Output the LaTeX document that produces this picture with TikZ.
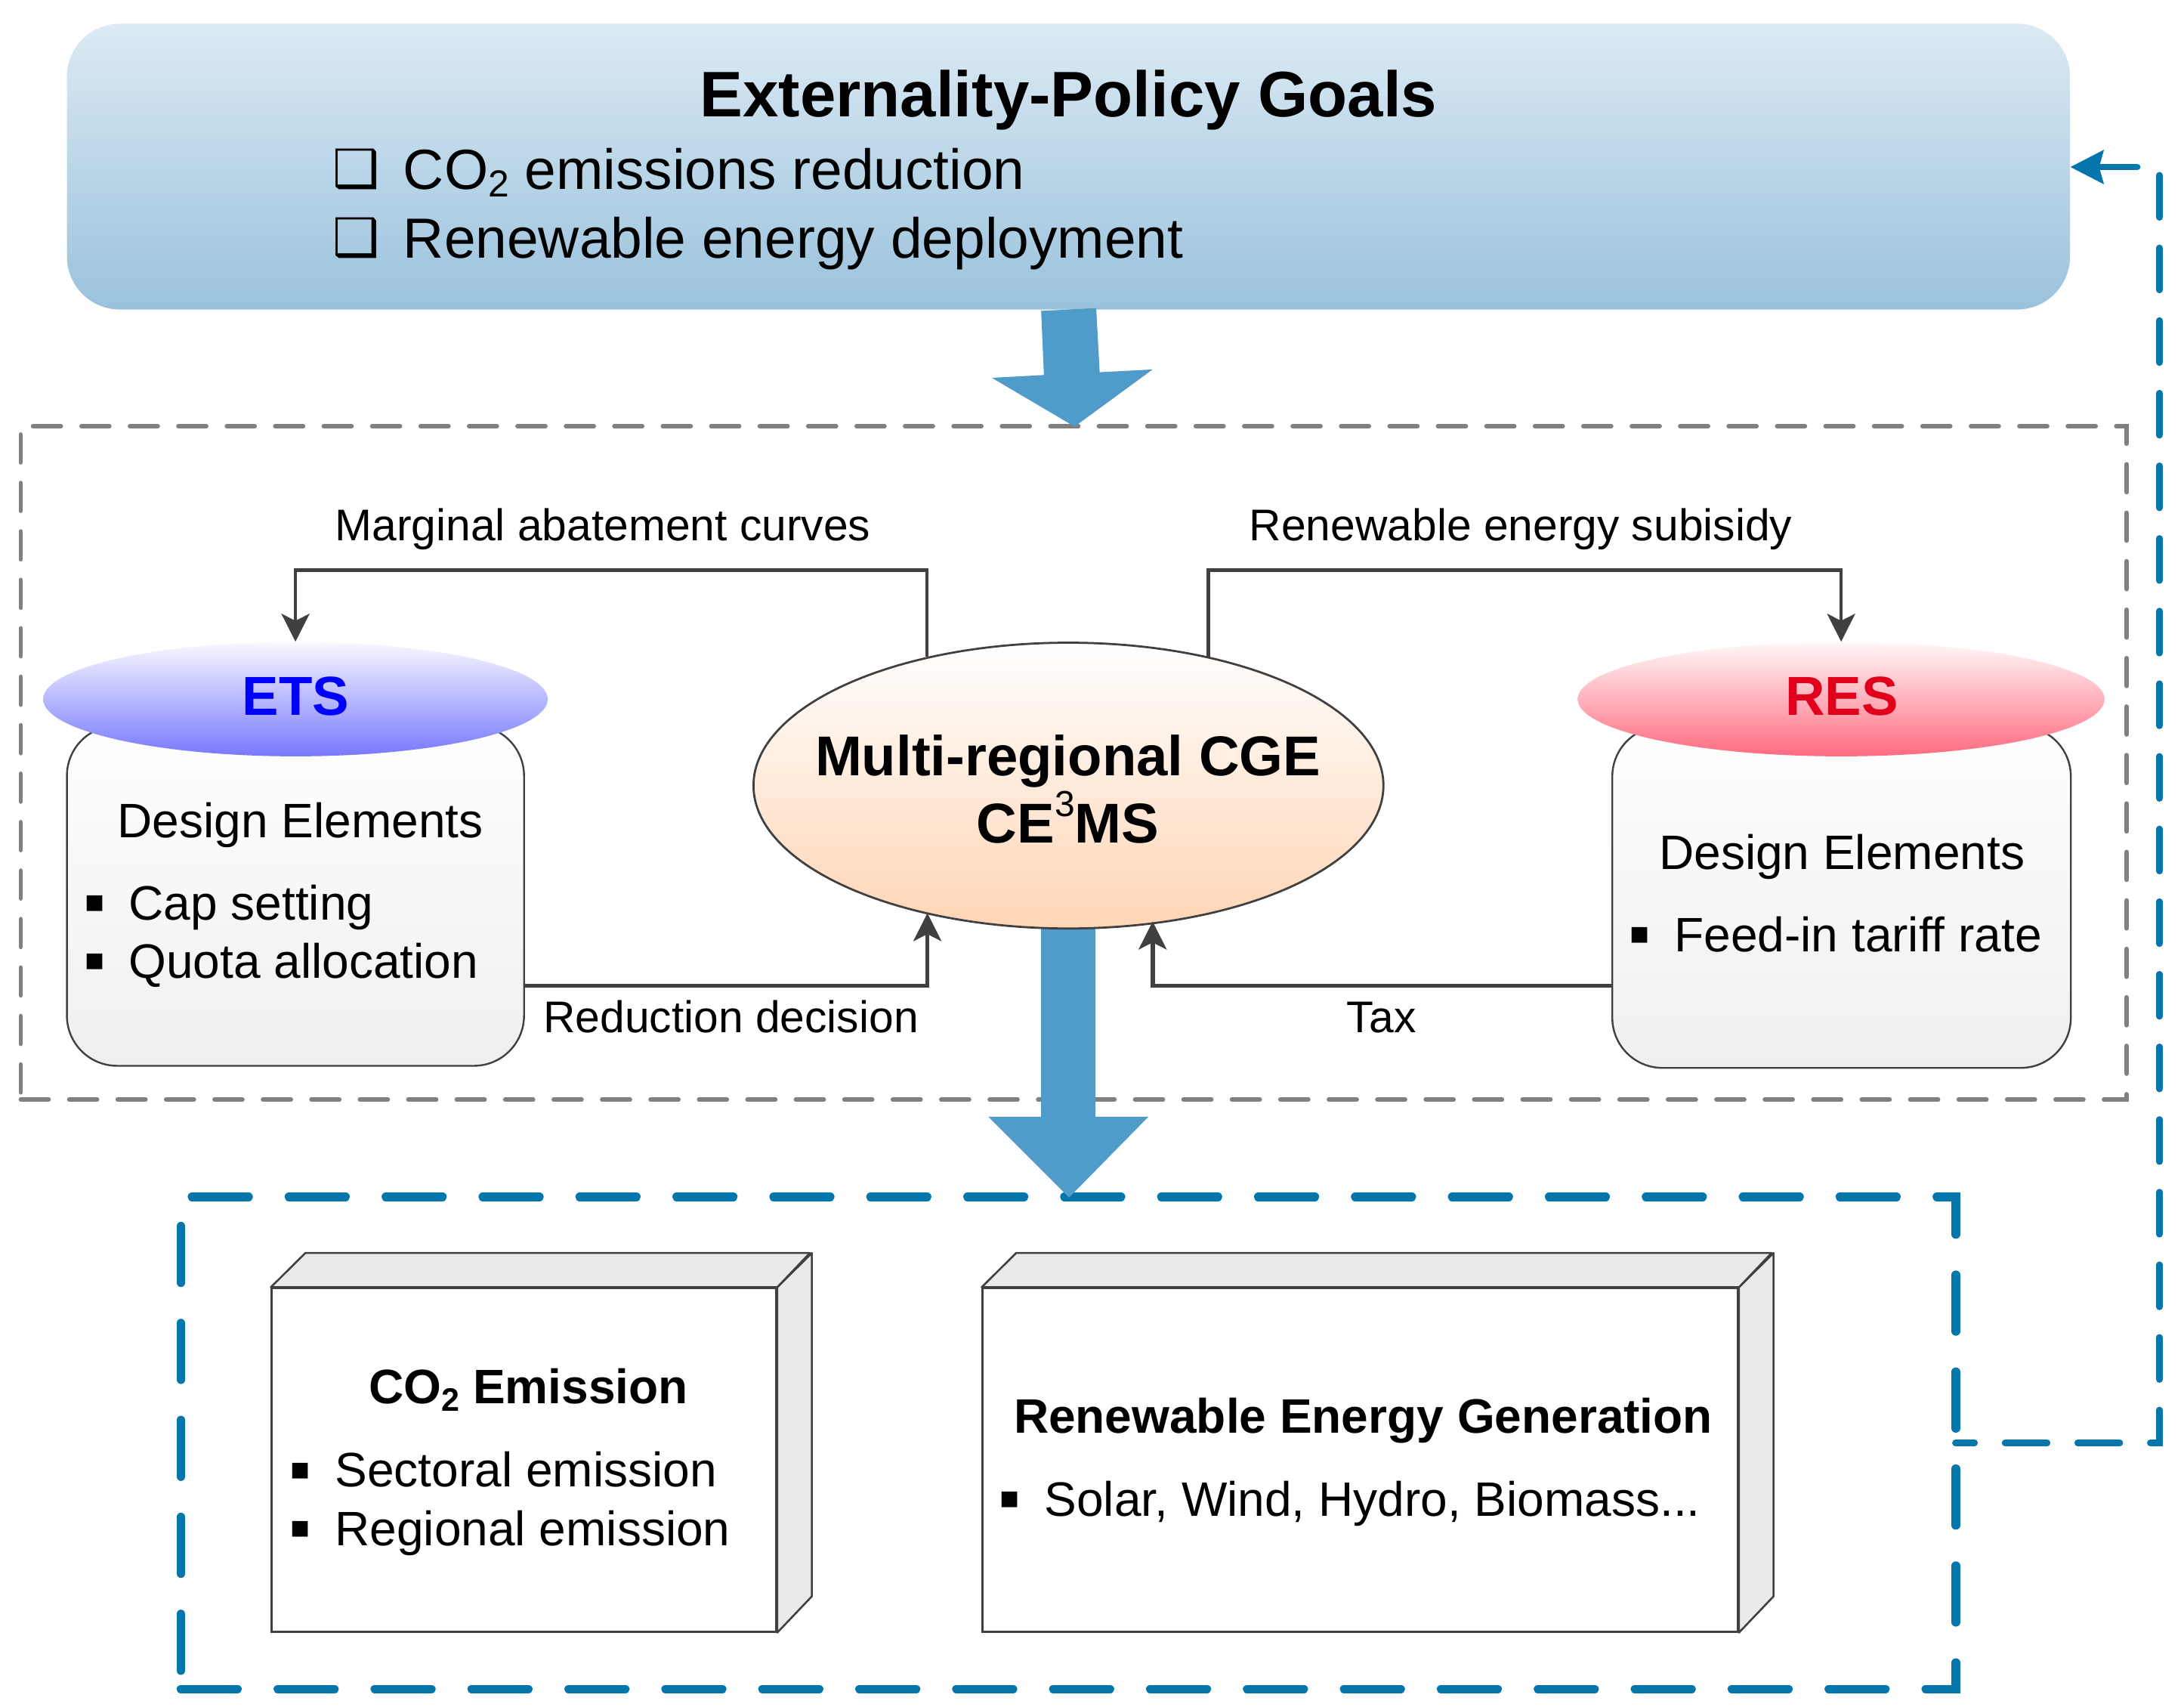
\documentclass[tikz,border=0pt]{standalone}
\usepackage{fontspec}
\setmainfont{Liberation Sans}
\newfontfamily\djv{DejaVu Sans}
\usetikzlibrary{arrows.meta,shapes.geometric}
\definecolor{arrowblue}{HTML}{4F9BC9}
\definecolor{dashblue}{HTML}{0476AB}
\definecolor{linegray}{HTML}{404040}
\definecolor{facegray}{HTML}{EAEAEA}
\definecolor{goaltop}{HTML}{DCEAF3}
\definecolor{goalbot}{HTML}{9AC2DD}
\definecolor{etstop}{HTML}{F8F8FF}
\definecolor{etsbot}{HTML}{7878FF}
\definecolor{restop}{HTML}{FFF8F8}
\definecolor{resbot}{HTML}{FF6B80}
\definecolor{cgebot}{HTML}{FFD5B5}
\definecolor{boxbot}{HTML}{EFEFEF}
\definecolor{resred}{HTML}{E0001B}
\newcommand{\fs}[1]{\fontsize{#1}{#1}\selectfont}
\newcommand{\chk}{{\djv\fs{37.5}❑}}
\newcommand{\bul}{{\djv\fs{22.5}▪}}
\newcommand{\subtwo}[2]{\raisebox{-#2pt}{\fs{#1}2}}
\tikzset{
  txt/.style={inner sep=0pt,anchor=base west,text=black,font=\fs{34.7}},
  txtc/.style={inner sep=0pt,anchor=base,text=black},
  lab/.style={inner sep=0pt,anchor=base west,text=black,font=\fs{31.85}},
  bullet/.style={inner sep=0pt,anchor=base west},
  conn/.style={draw=linegray,line width=2.5pt,-{Stealth[length=20pt,width=20pt,inset=5pt]}},
  bigarrow/.style={fill=arrowblue,draw=none},
  design/.style={draw=linegray,line width=1.3pt,rounded corners=36pt,top color=white,bottom color=boxbot,inner sep=0pt},
  capsule/.style={ellipse,draw=none,minimum height=82pt,inner sep=0pt},
  front/.style={draw=linegray,line width=1.4pt,fill=white,minimum height=246.3pt,inner sep=0pt},
  face/.style={draw=linegray,line width=1.4pt,fill=facegray,line join=round},
  grayframe/.style={draw=gray,line width=3.2pt,line cap=round,dash pattern=on 20pt off 14.76pt},
  blueframe/.style={draw=dashblue,line width=6.2pt,line cap=round,dash pattern=on 40.6pt off 28.95pt},
  feedback/.style={draw=dashblue,line width=4.7pt,line cap=round,dash pattern=on 30.2pt off 21.9pt,dash phase=16.5pt,
    -{Stealth[length=23.7pt,width=23.7pt,inset=3pt]}},
}
\begin{document}
\begin{tikzpicture}[x=1pt,y=-1pt]
\useasboundingbox (0,0) rectangle (1567,1224.4);
% frames
\coordinate (gBL) at (14.9,788.7); \coordinate (gBR) at (1525.8,788.7);
\coordinate (gTR) at (1525.8,305.7); \coordinate (gTL) at (14.9,305.7);
\coordinate (bBL) at (129.8,1211.6); \coordinate (bBR) at (1403.3,1211.6);
\coordinate (bTR) at (1403.3,858.5); \coordinate (bTL) at (129.8,858.5);
\draw[grayframe] (gBL) -- (gBR) -- (gTR) -- (gTL) -- cycle;
\draw[blueframe] (bBL) -- (bBR) -- (bTR) -- (bTL) -- cycle;
% goals box
\node[draw=none,rounded corners=38pt,top color=goaltop,bottom color=goalbot,minimum width=1437.2pt,minimum height=205pt,inner sep=0pt] (goals) at (766.6,119.5) {};
% feedback
\coordinate (fS) at (1403,1035); \coordinate (fC) at (1549.4,1035); \coordinate (fU) at (1549.4,119.8);
\draw[feedback] (fS) -- (fC) -- (fU) -- (goals.east |- fU);
% big arrows
\fill[bigarrow] (747,223) -- (786.5,221) -- (789,267) -- (827,265) -- (771,306) -- (711.6,271) -- (749,269) -- cycle;
\fill[bigarrow] (747,664) -- (786,664) -- (786,801) -- (824,801) -- (767,859) -- (709,801) -- (747,801) -- cycle;
% design boxes
\node[design,minimum width=328pt,minimum height=244pt] (etsbox) at (212,642.5) {};
\node[design,minimum width=329pt,minimum height=245pt] (resbox) at (1321.3,643.5) {};
\node[capsule,top color=etstop,bottom color=etsbot,minimum width=362pt] (ets) at (212,501.5) {};
\node[capsule,top color=restop,bottom color=resbot,minimum width=378pt] (res) at (1321,501.5) {};
% centre
\node[ellipse,draw=linegray,line width=1.5pt,top color=white,bottom color=cgebot,minimum width=452pt,minimum height=205pt,inner sep=0pt] (cge) at (766.6,563.5) {};
% connectors
\coordinate (mA) at (665,471); \coordinate (mB) at (665,409);
\coordinate (rA) at (867,471); \coordinate (rB) at (867,409);
\coordinate (dA) at (etsbox.east |- 0,707); \coordinate (dB) at (665.4,655);
\coordinate (tA) at (resbox.west |- 0,707); \coordinate (tB) at (827,661);
\draw[conn] (mA) -- (mB) -| (ets.north);
\draw[conn] (rA) -- (rB) -| (res.north);
\draw[conn,line width=3pt] (dA) -| (dB);
\draw[conn,line width=3pt] (tA) -| (tB);
% output boxes
\node[front,minimum width=362pt] (co) at (376,1047.2) {};
\draw[face] (co.north west) -- ++(24.8,-24.6) -- ++(362,0) -- (co.north east) -- cycle;
\draw[face] (co.north east) -- ++(24.8,-24.6) -- ++(0,246.3) -- (co.south east) -- cycle;
\node[front,minimum width=542pt] (gen) at (976,1047.2) {};
\draw[face] (gen.north west) -- ++(24.8,-24.6) -- ++(542,0) -- (gen.north east) -- cycle;
\draw[face] (gen.north east) -- ++(24.8,-24.6) -- ++(0,246.3) -- (gen.south east) -- cycle;
% texts
\begin{scope}[shift={(-0.8,0.8)}]
\node[txtc,font=\fs{46.2}\bfseries] (t1) at (767.5,83.2) {Externality-Policy Goals};
\node[bullet] (c1) at (239.5,133.5) {\chk};
\node[bullet] (c2) at (239.5,182.5) {\chk};
\node[txt,font=\fs{40.6}] (t2) at (290,135) {CO\subtwo{27}{5.5} emissions reduction};
\node[txt,font=\fs{40.6}] (t3) at (290,184.4) {Renewable energy deployment};
\node[lab] (l1) at (241,387.2) {Marginal abatement curves};
\node[lab] (l2) at (897,387.2) {Renewable energy subisidy};
\node[lab] (l3) at (390.5,739.8) {Reduction decision};
\node[lab] (l4) at (967,739.8) {Tax};
\node[txtc,font=\fs{39.4}\bfseries,text=blue] (t4) at (213,512.2) {ETS};
\node[txtc,font=\fs{39.4}\bfseries,text=resred] (t5) at (1322.3,512.2) {RES};
\node[txtc,font=\fs{40.3}\bfseries] (t6) at (767,555.6) {Multi-regional CGE};
\node[txtc,font=\fs{40.3}\bfseries] (t7) at (767,604) {CE\raisebox{19pt}{\fs{26}\mdseries 3}MS};
\node[txt] (t8) at (85,600) {Design Elements};
\node[bullet] (b1) at (60.8,653) {\bul};
\node[txt] (t9) at (93,659) {Cap setting};
\node[bullet] (b2) at (60.8,695) {\bul};
\node[txt] (t10) at (93,701) {Quota allocation};
\node[txt] (t11) at (1191,623) {Design Elements};
\node[bullet] (b3) at (1169.5,676) {\bul};
\node[txt] (t12) at (1202,682) {Feed-in tariff rate};
\node[txtc,font=\fs{34.7}\bfseries] (t13) at (380,1006.2) {CO\subtwo{23.3}{5} Emission};
\node[bullet] (b4) at (208.5,1060) {\bul};
\node[txt] (t14) at (241,1065.6) {Sectoral emission};
\node[bullet] (b5) at (208.5,1102) {\bul};
\node[txt] (t15) at (241,1108) {Regional emission};
\node[txt,font=\fs{34.7}\bfseries] (t16) at (728,1027.2) {Renewable Energy Generation};
\node[bullet] (b6) at (717.5,1081) {\bul};
\node[txt] (t17) at (750,1087) {Solar, Wind, Hydro, Biomass...};
\end{scope}
\end{tikzpicture}
\end{document}
